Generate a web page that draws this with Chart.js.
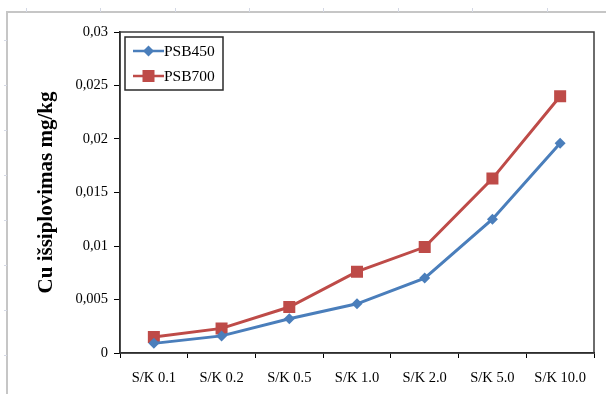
<!DOCTYPE html>
<html>
<head>
<meta charset="utf-8">
<script src="https://cdn.jsdelivr.net/npm/chart.js@4/dist/chart.umd.min.js"></script>
<style>
  html, body { margin: 0; padding: 0; background: #ffffff; }
  #wrap { width: 606px; height: 394px; position: relative; }
</style>
</head>
<body>
<div id="wrap"><canvas id="c" width="606" height="394"></canvas></div>
<script>
// Cu leaching per S/K ratio
const categories = ['S/K 0.1', 'S/K 0.2', 'S/K 0.5', 'S/K 1.0', 'S/K 2.0', 'S/K 5.0', 'S/K 10.0'];
const psb450 = [0.0009, 0.0016, 0.0032, 0.0046, 0.0070, 0.0125, 0.0196];
const psb700 = [0.0015, 0.0023, 0.0043, 0.0076, 0.0099, 0.0163, 0.0240];
const yTickLabels = ['0', '0,005', '0,01', '0,015', '0,02', '0,025', '0,03'];
const seriesNames = ['PSB450', 'PSB700'];
const yTitle = 'Cu išsiplovimas mg/kg';

const BLUE = '#4a7ebb';
const RED = '#be4b48';
const SERIF = '"Liberation Serif", "Times New Roman", serif';

// sheet frame, plot box and legend
const decor = {
  id: 'decor',
  beforeDraw(chart) {
    const ctx = chart.ctx;
    ctx.save();
    ctx.strokeStyle = '#c6c6c6';
    ctx.lineWidth = 2;
    ctx.beginPath();
    ctx.moveTo(7, 394);
    ctx.lineTo(7, 12);
    ctx.lineTo(606, 12);
    ctx.stroke();
    ctx.strokeStyle = '#d4d8e4';
    ctx.lineWidth = 1;
    [26, 100, 175, 249, 323, 398, 472, 547].forEach(x => {
      ctx.beginPath(); ctx.moveTo(x + 0.5, 8); ctx.lineTo(x + 0.5, 12); ctx.stroke();
    });
    [40, 85, 130, 175, 220, 265, 310, 355].forEach(y => {
      ctx.beginPath(); ctx.moveTo(4, y + 0.5); ctx.lineTo(7, y + 0.5); ctx.stroke();
    });
    ctx.restore();
  },
  afterDraw(chart) {
    const ctx = chart.ctx;
    const a = chart.chartArea;
    ctx.save();
    ctx.strokeStyle = '#3c3c3c';
    ctx.lineWidth = 1.5;
    ctx.strokeRect(a.left, a.top, a.right - a.left, a.bottom - a.top);

    // legend box
    const lx = 125, ly = 37, lw = 98, lh = 53;
    ctx.fillStyle = '#ffffff';
    ctx.fillRect(lx, ly, lw, lh);
    ctx.strokeStyle = '#2a2a2a';
    ctx.lineWidth = 1.5;
    ctx.strokeRect(lx, ly, lw, lh);
    chart.data.datasets.forEach((ds, i) => {
      const y = 51 + i * 25;
      ctx.strokeStyle = ds.borderColor;
      ctx.lineWidth = 2.5;
      ctx.beginPath(); ctx.moveTo(133, y); ctx.lineTo(164, y); ctx.stroke();
      ctx.fillStyle = ds.backgroundColor;
      const cx = 148.5;
      if (ds.pointStyle === 'rect') {
        ctx.fillRect(cx - 6, y - 6, 12, 12);
      } else {
        ctx.beginPath();
        ctx.moveTo(cx, y - 5.5); ctx.lineTo(cx + 5.5, y); ctx.lineTo(cx, y + 5.5); ctx.lineTo(cx - 5.5, y);
        ctx.closePath(); ctx.fill();
      }
      ctx.fillStyle = '#000000';
      ctx.font = '15.5px ' + SERIF;
      ctx.textBaseline = 'middle';
      ctx.textAlign = 'left';
      ctx.fillText(ds.label, 164, y + 1);
    });
    ctx.restore();
  }
};

new Chart(document.getElementById('c'), {
  type: 'line',
  data: {
    labels: categories,
    datasets: [
      {
        label: seriesNames[0], data: psb450,
        borderColor: BLUE, backgroundColor: BLUE, borderWidth: 3,
        pointStyle: 'rectRot', pointRadius: 5.5, pointHoverRadius: 5.5,
        pointBorderWidth: 0, tension: 0
      },
      {
        label: seriesNames[1], data: psb700,
        borderColor: RED, backgroundColor: RED, borderWidth: 3,
        pointStyle: 'rect', pointRadius: 8.5, pointHoverRadius: 8.5,
        pointBorderWidth: 0, tension: 0
      }
    ]
  },
  options: {
    responsive: false,
    animation: false,
    events: [],
    layout: { padding: { top: 32, right: 12, left: 0, bottom: 0 } },
    plugins: { legend: { display: false }, tooltip: { enabled: false } },
    scales: {
      x: {
        type: 'category',
        offset: true,
        afterFit(s) { s.height = 41; },
        grid: {
          offset: true, drawOnChartArea: false, drawTicks: true,
          tickLength: 5, color: '#000000', lineWidth: 1
        },
        border: { display: true, color: '#000000', width: 1.5 },
        ticks: {
          color: '#000000', font: { family: SERIF, size: 14.5 },
          padding: 11, maxRotation: 0, autoSkip: false
        }
      },
      y: {
        min: 0, max: 0.03,
        afterFit(s) { s.width = 120; },
        grid: {
          drawOnChartArea: false, drawTicks: true,
          tickLength: 6, color: '#000000', lineWidth: 1
        },
        border: { display: true, color: '#000000', width: 1.5 },
        ticks: {
          stepSize: 0.005, color: '#000000',
          font: { family: SERIF, size: 14.5 }, padding: 6,
          callback: (v, i) => yTickLabels[i]
        },
        title: {
          display: true, text: yTitle, color: '#000000',
          font: { family: SERIF, size: 21, weight: 'bold' },
          padding: { top: 34, bottom: 0 }
        }
      }
    }
  },
  plugins: [decor]
});
</script>
</body>
</html>
